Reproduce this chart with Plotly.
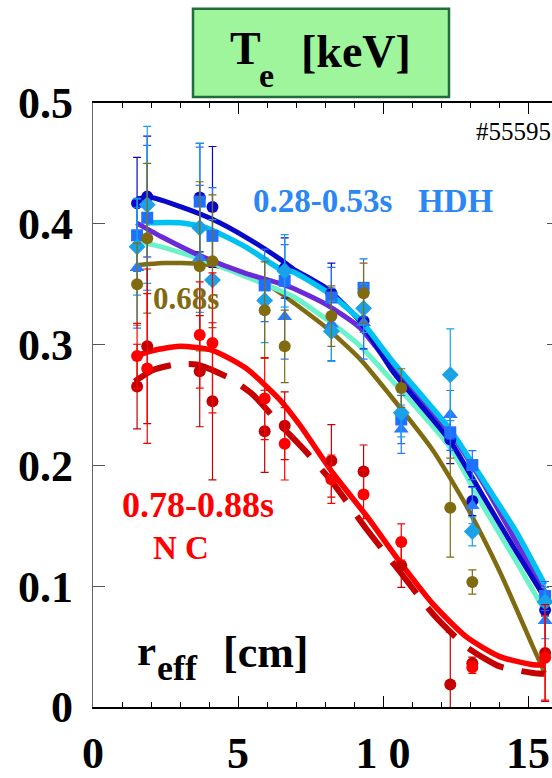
import plotly.graph_objects as go

# ---------------- data ----------------
r_pts = [1.52, 1.87, 3.68, 4.12, 5.92, 6.61, 8.22, 9.33, 10.63, 12.32, 13.08, 15.59]

te_dkblue = [0.417, 0.4225, 0.4217, 0.414, None, 0.3634, 0.3425, 0.3195, None, 0.2214, 0.1705, 0.0802]
er_dkblue = [0.038, 0.05, 0.045, 0.05, 0.03, 0.025, 0.025, 0.023, 0.02, 0.02, 0.012, 0.01]

te_square = [0.3905, 0.405, 0.4184, 0.390, 0.349, 0.3528, 0.339, 0.347, 0.238, 0.2274, 0.2003, 0.0919]
er_square = [0.03, 0.06, 0.045, 0.04, 0.03, 0.03, 0.025, 0.024, 0.02, 0.015, 0.012, 0.012]

te_triang = [0.3637, None, 0.3718, None, None, 0.323, 0.3168, 0.318, 0.230, 0.242, 0.1667, 0.0715]
er_triang = [0.05, 0.05, 0.06, 0.05, 0.04, 0.035, 0.03, 0.03, 0.02, 0.02, 0.015, 0.015]

te_diamnd = [0.381, 0.4157, 0.3967, 0.3534, 0.3366, 0.361, 0.311, 0.330, 0.2436, 0.275, 0.1453, 0.087]
er_diamnd = [0.04, 0.065, 0.07, 0.05, 0.035, 0.03, 0.025, 0.02, 0.02, 0.038, 0.012, 0.012]

te_olive = [0.350, 0.388, 0.3648, 0.369, 0.3285, 0.2986, 0.3236, 0.3425, 0.264, 0.165, 0.1035, None]
er_olive = [0.034, 0.062, 0.07, 0.055, 0.04, 0.03, 0.025, 0.025, 0.016, 0.041, 0.01, 0.01]

te_dkred = [0.2653, 0.2986, 0.278, 0.2531, 0.2282, 0.2328, 0.2038, 0.1949, 0.1171, 0.0187, 0.0363, 0.0447]
er_dkred = [0.035, 0.064, 0.046, 0.065, 0.034, 0.028, 0.03, 0.022, 0.018, 0.043, 0.005, 0.04]

te_red = [0.2905, 0.2802, 0.3079, 0.3014, 0.2553, 0.2179, 0.1886, 0.1759, 0.1366, None, 0.0328, 0.0407]
er_red = [0.027, 0.062, 0.044, 0.058, 0.034, 0.03, 0.02, 0.02, 0.015, 0.0, 0.005, 0.035]

# fitted profiles
fit_dkblue_x = [1.517, 2.014, 2.990, 4.138, 5.290, 6.438, 6.897, 8.048, 9.197, 10.345, 12.300, 13.448, 14.600, 15.576]
fit_dkblue_y = [0.4206, 0.4217, 0.4144, 0.4035, 0.3886, 0.3710, 0.3628, 0.3466, 0.3195, 0.2775, 0.2206, 0.1746, 0.1285, 0.0905]

fit_cyan_x = [1.841, 2.990, 3.910, 5.290, 6.438, 6.897, 8.048, 9.197, 10.345, 12.300, 13.448, 14.600, 15.576]
fit_cyan_y = [0.4008, 0.4008, 0.3967, 0.3805, 0.3629, 0.3602, 0.3439, 0.3209, 0.2856, 0.2301, 0.1881, 0.1447, 0.1014]

fit_purple_x = [1.497, 2.414, 3.679, 5.290, 6.438, 6.897, 8.048, 9.197, 10.345, 11.152, 12.300, 13.448, 14.600, 15.576]
fit_purple_y = [0.4008, 0.3886, 0.3737, 0.3588, 0.3507, 0.3466, 0.3331, 0.3141, 0.2802, 0.2585, 0.2274, 0.1854, 0.1366, 0.0959]

fit_aqua_x = [1.497, 2.414, 3.679, 5.290, 6.897, 8.048, 9.197, 10.231, 12.300, 13.448, 14.600, 15.576]
fit_aqua_y = [0.3859, 0.3805, 0.3710, 0.3561, 0.3398, 0.3209, 0.2992, 0.2724, 0.2152, 0.1664, 0.1203, 0.0797]

fit_olive_x = [1.497, 2.414, 3.679, 4.714, 5.862, 6.438, 6.897, 8.048, 9.197, 10.231, 11.724, 12.876, 14.024, 15.172, 15.576]
fit_olive_y = [0.3656, 0.3675, 0.3669, 0.3628, 0.3520, 0.3430, 0.3350, 0.3140, 0.2884, 0.2585, 0.2124, 0.1664, 0.1122, 0.0498, 0.0282]

fit_red_x = [1.379, 2.069, 2.990, 4.138, 5.290, 6.438, 7.128, 8.276, 9.428, 10.576, 11.724, 12.876, 14.024, 15.172, 15.576]
fit_red_y = [0.2897, 0.2951, 0.2986, 0.2951, 0.2802, 0.2545, 0.2335, 0.1935, 0.1583, 0.1203, 0.0851, 0.0580, 0.0417, 0.0350, 0.0350]

fit_dkred_x = [1.438, 2.069, 2.817, 3.566, 4.714, 5.517, 6.438, 7.359, 8.276, 9.428, 10.576, 11.724, 12.876, 14.024, 15.172, 15.576]
fit_dkred_y = [0.2694, 0.2789, 0.2835, 0.2835, 0.2721, 0.2585, 0.2341, 0.2110, 0.1854, 0.1474, 0.1122, 0.0770, 0.0498, 0.0336, 0.0282, 0.0275]

x_tickvals = [0, 5, 10, 15]
x_ticktext = ["0", "5", "1 0", "15"]
y_tickvals = [0, 0.1, 0.2, 0.3, 0.4, 0.5]
y_ticktext = ["0", "0.1", "0.2", "0.3", "0.4", "0.5"]

# ---------------- colours ----------------
C_DKBLUE = "#0808c8"
C_SQUARE = "#2070ff"
C_TRIANG = "#2a7cff"
C_DIAMND = "#1aa2e8"
C_CYAN = "#00c2f2"
C_PURPLE = "#6a2ad6"
C_AQUA = "#6af2c8"
C_OLIVE = "#806b10"
C_RED = "#ff0000"
C_DKRED = "#c40000"
C_LABEL = "#2b87f2"
SERIF = "Liberation Serif"

fig = go.Figure()

def fit(xs, ys, color, width, dash="solid"):
    fig.add_trace(go.Scatter(x=xs, y=ys, mode="lines",
                             line=dict(color=color, width=width, dash=dash, shape="spline", smoothing=0.6),
                             hoverinfo="skip", showlegend=False))

fit(fit_olive_x, fit_olive_y, C_OLIVE, 4.5)
fit(fit_aqua_x, fit_aqua_y, C_AQUA, 5)
fit(fit_purple_x, fit_purple_y, C_PURPLE, 5)
fit(fit_dkblue_x, fit_dkblue_y, C_DKBLUE, 5)
fit(fit_cyan_x, fit_cyan_y, C_CYAN, 5.5)
fit(fit_dkred_x, fit_dkred_y, C_DKRED, 6, "40px,18px")
fit(fit_red_x, fit_red_y, C_RED, 5.5)

def pts(ys, errs, color, symbol, size=12):
    fig.add_trace(go.Scatter(x=r_pts, y=ys, mode="markers",
                             marker=dict(color=color, symbol=symbol, size=size, line=dict(width=0)),
                             error_y=dict(type="data", array=errs, color=color, thickness=1.2, width=4),
                             showlegend=False))

pts(te_dkblue, er_dkblue, C_DKBLUE, "circle")
pts(te_square, er_square, C_SQUARE, "square", 12)
pts(te_triang, er_triang, C_TRIANG, "triangle-up", 13)
pts(te_diamnd, er_diamnd, C_DIAMND, "diamond", 13)
pts(te_olive, er_olive, C_OLIVE, "circle")
pts(te_dkred, er_dkred, C_DKRED, "circle")
pts(te_red, er_red, C_RED, "circle")

# invisible trace for right-hand tick axis
fig.add_trace(go.Scatter(x=[None], y=[None], yaxis="y2", showlegend=False))

L, R, T, B = 93, 552, 103, 718
def px(x):
    return (x - L) / (R - L)
def py(y):
    return (B - y) / (B - T)

fig.update_layout(
    width=552, height=778,
    margin=dict(l=L, r=552 - R, t=T, b=778 - B, pad=0),
    paper_bgcolor="white", plot_bgcolor="white",
    showlegend=False,
    xaxis=dict(range=[0, (R - L) / 29.0], tickvals=x_tickvals, ticktext=x_ticktext,
               ticks="inside", ticklen=11, tickwidth=1.2, tickcolor="black",
               minor=dict(dtick=1, ticks="inside", ticklen=5, tickwidth=1, tickcolor="black"),
               showline=True, linecolor="black", linewidth=1.5, mirror="ticks",
               showgrid=False, zeroline=False,
               tickfont=dict(family=SERIF, size=44, color="black", weight="bold"),
               ticklabelstandoff=6),
    yaxis=dict(range=[0, 0.5], tickvals=y_tickvals, ticktext=y_ticktext,
               ticks="inside", ticklen=12, tickwidth=1.2, tickcolor="#555",
               showline=True, linecolor="#666", linewidth=1.3,
               showgrid=False, zeroline=False,
               tickfont=dict(family=SERIF, size=44, color="black", weight="bold"),
               ticklabelstandoff=10),
    yaxis2=dict(range=[0, 0.5], overlaying="y", side="right", tickvals=y_tickvals,
                ticks="inside", ticklen=5, tickcolor="#555", showticklabels=False,
                showline=False, showgrid=False, zeroline=False),
)

# title box
fig.add_shape(type="rect", xref="paper", yref="paper",
              x0=px(193), x1=px(449), y0=py(97), y1=py(7),
              fillcolor="#9ef59c", line=dict(color="#1f6e3a", width=2.5))

def txt(text, x, y, size, color="black", bold=True, xanchor="left"):
    fig.add_annotation(text=text, xref="paper", yref="paper", x=px(x), y=py(y),
                       xanchor=xanchor, yanchor="middle", showarrow=False,
                       font=dict(family=SERIF, size=size, color=color, weight="bold" if bold else "normal"))

txt("T", 228, 47, 46)
txt("e", 257, 75, 34)
txt("[keV]", 299, 51, 46)

txt("#55595", 474, 132, 25, bold=False)
txt("0.28-0.53s", 251, 203, 33, color=C_LABEL)
txt("HDH", 416, 203, 33, color=C_LABEL)
txt("0.68s", 151, 302, 31, color=C_OLIVE)
txt("0.78-0.88s", 120, 512, 36, color=C_RED)
txt("N C", 181, 556, 33, color=C_RED, xanchor="center")

txt("r", 135, 660, 43)
txt("eff", 155, 678, 36)
txt("[cm]", 221, 662, 44)

fig.write_html("out.html")
